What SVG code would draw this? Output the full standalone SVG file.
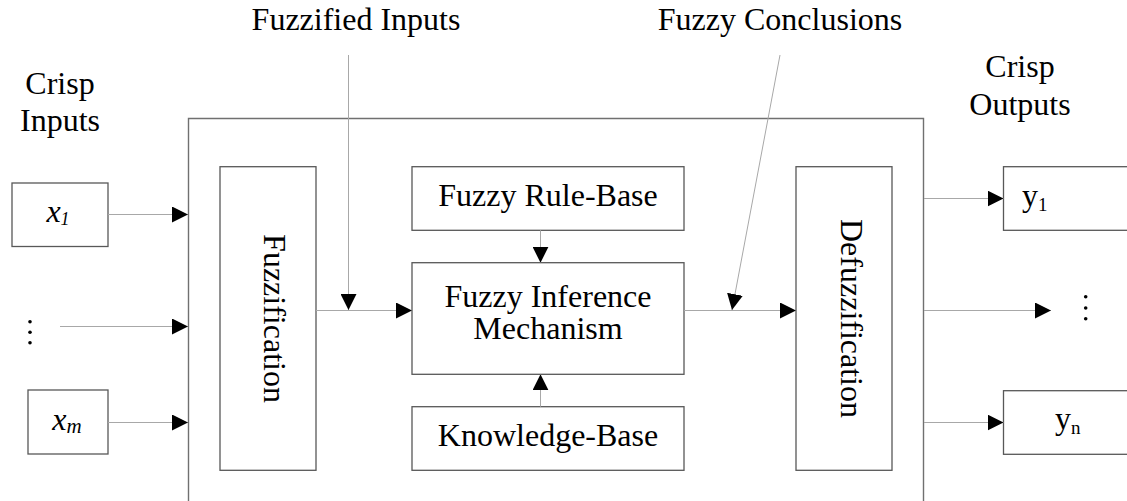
<svg xmlns="http://www.w3.org/2000/svg" width="1127" height="501" viewBox="0 0 1127 501">
<style>
text{font-family:"Liberation Serif","Times New Roman",serif;fill:#000;}
.lbl{font-size:32px;}
.box{fill:#fff;stroke:#585858;stroke-width:1.3;}
.main{fill:none;stroke:#707070;stroke-width:1.4;}
.con{stroke:#a8a8a8;stroke-width:1;fill:none;marker-end:url(#ah);}
</style>
<defs>
<marker id="ah" markerUnits="userSpaceOnUse" markerWidth="16" markerHeight="16" refX="16" refY="8" orient="auto" viewBox="0 0 16 16">
<path d="M0,0 L16,8 L0,16 z" fill="#000"/>
</marker>
</defs>
<rect width="1127" height="501" fill="#fff"/>
<g id="labels">
<text class="lbl" x="356" y="30" text-anchor="middle">Fuzzified Inputs</text>
<text class="lbl" x="780" y="30" text-anchor="middle">Fuzzy Conclusions</text>
<text class="lbl" text-anchor="middle"><tspan x="60" y="94">Crisp</tspan><tspan x="60" y="131">Inputs</tspan></text>
<text class="lbl" text-anchor="middle"><tspan x="1020" y="77">Crisp</tspan><tspan x="1020" y="115">Outputs</tspan></text>
</g>
<g id="system">
<path class="main" d="M188.5,510 V118.5 H923.5 V510"/>
</g>
<g id="x1">
<rect class="box" x="12" y="183" width="96" height="63.5"/>
<text x="58" y="222" font-size="32" font-style="italic" text-anchor="middle">x<tspan font-size="18" dy="3">1</tspan></text>
</g>
<g id="xdots">
<circle cx="30" cy="321.7" r="1.8" fill="#000"/>
<circle cx="30" cy="332.3" r="1.8" fill="#000"/>
<circle cx="30" cy="342.7" r="1.8" fill="#000"/>
</g>
<g id="xm">
<rect class="box" x="28" y="390" width="80" height="64"/>
<text x="67" y="430" font-size="32" font-style="italic" text-anchor="middle">x<tspan font-size="21" dy="3">m</tspan></text>
</g>
<g id="fuzzification">
<rect class="box" x="220" y="166.7" width="96" height="303.6"/>
<text class="lbl" transform="translate(264,318.5) rotate(90)" text-anchor="middle">Fuzzification</text>
</g>
<g id="rulebase">
<rect class="box" x="412" y="166.7" width="272" height="63.6"/>
<text class="lbl" x="548" y="206" text-anchor="middle">Fuzzy Rule-Base</text>
</g>
<g id="inference">
<rect class="box" x="412" y="262.7" width="272" height="111.6"/>
<text class="lbl" text-anchor="middle"><tspan x="548" y="307">Fuzzy Inference</tspan><tspan x="548" y="338.5">Mechanism</tspan></text>
</g>
<g id="knowledgebase">
<rect class="box" x="412" y="406.7" width="272" height="63.6"/>
<text class="lbl" x="548" y="446" text-anchor="middle">Knowledge-Base</text>
</g>
<g id="defuzzification">
<rect class="box" x="796" y="166.7" width="96" height="303.6"/>
<text class="lbl" transform="translate(840.5,318.5) rotate(90)" text-anchor="middle">Defuzzification</text>
</g>
<g id="y1">
<rect class="box" x="1003.5" y="166.7" width="130" height="63.6"/>
<text x="1022" y="206" font-size="32">y<tspan font-size="19" dy="5">1</tspan></text>
</g>
<g id="ydots">
<circle cx="1085.7" cy="296.7" r="1.8" fill="#000"/>
<circle cx="1085.7" cy="308" r="1.8" fill="#000"/>
<circle cx="1085.7" cy="318.7" r="1.8" fill="#000"/>
</g>
<g id="yn">
<rect class="box" x="1003.5" y="390.7" width="130" height="63.6"/>
<text x="1055" y="429" font-size="32">y<tspan font-size="19" dy="5">n</tspan></text>
</g>
<g id="connectors">
<line class="con" x1="108" y1="214.5" x2="188" y2="214.5"/>
<line class="con" x1="60" y1="326.5" x2="188" y2="326.5"/>
<line class="con" x1="108" y1="422.5" x2="188" y2="422.5"/>
<line class="con" x1="316" y1="310.5" x2="412" y2="310.5"/>
<line class="con" x1="348.5" y1="55" x2="348.5" y2="310"/>
<line class="con" x1="540.5" y1="230.3" x2="540.5" y2="262.7"/>
<line class="con" x1="540.5" y1="406.7" x2="540.5" y2="374.3"/>
<line class="con" x1="684" y1="310.5" x2="796" y2="310.5"/>
<line class="con" x1="780" y1="55" x2="732" y2="310"/>
<line class="con" x1="924" y1="198.5" x2="1003.5" y2="198.5"/>
<line class="con" x1="924" y1="310.5" x2="1051" y2="310.5"/>
<line class="con" x1="924" y1="422.5" x2="1003.5" y2="422.5"/>
</g>
</svg>
